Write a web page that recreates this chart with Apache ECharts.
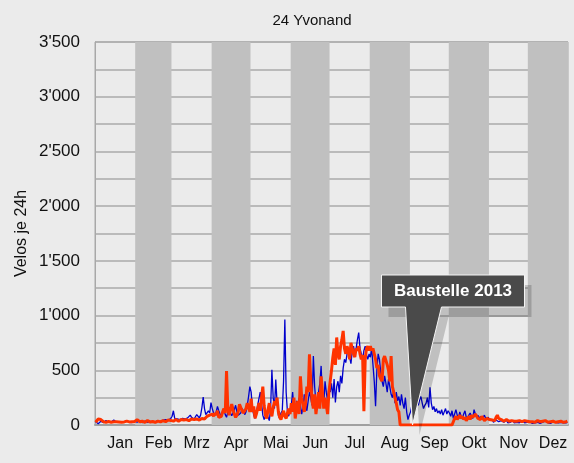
<!DOCTYPE html>
<html>
<head>
<meta charset="utf-8">
<script src="https://cdn.jsdelivr.net/npm/echarts@6/dist/echarts.min.js"></script>
<style>
  html, body { margin: 0; padding: 0; background: #ebebeb; }
  #chart { width: 574px; height: 463px; }
</style>
</head>
<body>
<div id="chart"></div>
<script>
// Month names and lengths (2013)
const monthNames = ['Jan', 'Feb', 'Mrz', 'Apr', 'Mai', 'Jun', 'Jul', 'Aug', 'Sep', 'Okt', 'Nov', 'Dez'];
const monthDays = [31, 28, 31, 30, 31, 30, 31, 31, 30, 31, 30, 31];

// Daily counts, thin blue line (one row per month)
const blueDaily = [
  30,18,12,25,35,28,22,30,40,35,25,20,28,38,45,30,25,22,30,35,28,20,25,30,40,32,25,30,22,28,35,
  30,25,35,40,30,22,28,35,30,25,20,30,38,32,25,28,35,40,30,25,35,45,40,50,38,45,55,60,
  80,130,60,45,55,70,50,45,60,75,55,50,65,80,90,70,60,55,75,95,80,65,90,160,255,150,95,100,130,110,205,
  150,110,90,120,170,130,100,80,110,140,95,70,120,160,110,85,100,140,180,120,90,75,110,150,130,95,120,180,260,350,
  300,150,90,60,120,180,240,300,200,90,50,80,120,70,40,150,505,250,150,415,200,90,60,110,130,400,965,300,120,80,140,
  180,300,150,90,220,120,250,180,100,160,280,200,130,220,300,250,180,630,350,200,150,300,380,540,250,180,400,300,220,350,
  300,380,250,420,205,350,400,300,450,380,520,600,570,650,700,620,560,680,720,650,700,780,845,700,650,600,680,720,640,600,650,
  620,700,550,400,172,500,650,600,480,400,350,450,380,300,420,350,280,250,320,200,300,220,260,180,280,200,150,250,120,50,90,
  120,180,250,200,150,220,180,230,260,200,150,180,200,250,160,345,200,140,170,120,150,110,130,100,140,90,120,150,100,130,
  110,80,130,60,100,140,90,70,120,80,60,100,130,70,50,90,110,80,60,140,100,70,90,60,80,50,70,90,60,50,70,
  40,30,50,25,35,45,60,30,20,40,35,25,30,45,20,30,25,35,40,20,30,25,35,20,30,40,25,20,30,25,
  20,30,25,15,30,20,35,25,20,15,30,25,20,35,25,20,30,15,25,30,20,25,30,20,15,25,30,20,25,20,25
];

// Daily counts, thick orange line (2013, construction site from late August)
const orangeDaily = [
  25,40,55,68,50,35,30,28,25,30,32,28,25,22,30,35,30,25,28,30,25,22,28,30,35,30,28,25,30,32,30,
  35,50,40,30,28,35,30,25,30,40,35,28,30,32,28,25,30,35,30,28,35,40,35,30,40,45,38,42,
  40,35,45,50,40,35,45,50,40,45,55,50,45,40,50,55,45,50,60,55,50,45,55,60,70,55,65,80,75,90,100,
  100,80,110,90,130,70,60,80,120,150,110,492,150,90,80,190,140,100,70,90,120,190,160,130,110,100,150,200,160,120,
  240,120,170,60,100,150,200,130,250,350,180,90,60,140,200,120,80,160,220,180,250,120,70,50,90,130,80,60,110,150,100,
  200,120,250,60,150,220,100,445,250,180,120,200,350,300,645,400,220,150,280,100,200,300,150,445,300,150,250,180,100,300,
  400,500,615,700,550,800,650,600,720,780,860,700,650,720,680,600,750,700,650,620,700,680,720,650,600,640,126,600,700,720,680,
  720,680,700,650,600,520,550,450,420,400,600,630,620,550,500,400,630,350,300,250,200,140,120,0,0,0,0,0,0,0,0,
  0,0,0,0,0,0,0,0,0,0,0,0,0,0,0,0,0,0,0,0,0,0,0,0,0,0,0,0,0,0,
  0,0,0,0,60,80,50,70,90,60,80,50,70,40,60,80,50,90,70,60,100,80,60,70,50,80,60,40,50,60,45,
  50,60,45,55,40,70,90,60,45,50,40,35,45,50,40,35,45,40,30,35,40,35,30,40,35,30,35,40,30,35,
  35,30,40,30,35,25,30,40,35,30,25,35,30,40,30,25,35,30,40,35,30,25,35,30,40,35,30,25,35,30,35
];

const yTicks = [0, 500, 1000, 1500, 2000, 2500, 3000, 3500];
const calloutText = 'Baustelle 2013';
const calloutDay = 245;

// month start days, label positions and shaded (even) months
const monthStart = [];
monthDays.reduce((acc, d) => { monthStart.push(acc); return acc + d; }, 0);
const labelDays = monthStart.map((s, i) => s + monthDays[i] / 2 + 4);
const darkBands = [];
monthStart.forEach((s, i) => {
  if (i % 2 === 1) darkBands.push([{ xAxis: s }, { xAxis: s + monthDays[i] }]);
});

function fmtThousands(v) {
  if (v < 1000) return String(v);
  const rest = String(v % 1000).padStart(3, '0');
  return Math.floor(v / 1000) + "'" + rest;
}

const chart = echarts.init(document.getElementById('chart'));
chart.setOption({
  backgroundColor: '#ebebeb',
  animation: false,
  textStyle: { fontFamily: 'Liberation Sans, Arial, sans-serif' },
  grid: {
    left: 95, right: 6, top: 42, bottom: 38,
    show: true, borderColor: '#a8a8a8', borderWidth: 1, backgroundColor: 'transparent'
  },
  xAxis: {
    type: 'value',
    min: 0,
    max: 365,
    splitLine: { show: false },
    axisTick: { show: false },
    axisLine: { lineStyle: { color: '#a0a0a0', width: 2 } },
    axisLabel: {
      customValues: labelDays,
      formatter: (v) => monthNames[labelDays.indexOf(v)] || '',
      color: '#111',
      fontSize: 16,
      margin: 11
    }
  },
  yAxis: {
    type: 'value',
    min: 0,
    max: 3500,
    interval: 500,
    name: 'Velos je 24h',
    nameLocation: 'middle',
    nameGap: 65,
    nameMoveOverlap: false,
    nameRotate: 90,
    nameTextStyle: { color: '#111', fontSize: 16 },
    axisLine: { show: true, lineStyle: { color: '#a8a8a8', width: 1 } },
    axisTick: { show: false },
    axisLabel: {
      formatter: (v) => (yTicks.includes(v) ? fmtThousands(v) : ''),
      color: '#111',
      fontSize: 17,
      margin: 15
    },
    splitLine: { lineStyle: { color: '#aaaaaa', width: 1.5 } },
    minorTick: { show: false, splitNumber: 2 },
    minorSplitLine: { show: true, lineStyle: { color: '#aaaaaa', width: 1.5 } }
  },
  series: [
    {
      name: 'bands',
      type: 'line',
      data: [],
      z: 1,
      silent: true,
      markArea: {
        silent: true,
        itemStyle: { color: '#c0c0c0' },
        data: darkBands
      }
    },
    {
      name: 'Velos',
      type: 'line',
      z: 3,
      showSymbol: false,
      data: blueDaily.map((v, i) => [i + 0.5, v]),
      lineStyle: { color: '#0000cc', width: 1.3 },
      itemStyle: { color: '#0000cc' }
    },
    {
      name: 'Velos 2013',
      type: 'line',
      z: 4,
      showSymbol: false,
      data: orangeDaily.map((v, i) => [i + 0.5, v]),
      lineStyle: { color: '#ff3300', width: 3 },
      itemStyle: { color: '#ff3300' }
    }
  ]
});

// title and callout, anchored on the chart
const tip = chart.convertToPixel({ gridIndex: 0 }, [calloutDay, 0]);
const bx = tip[0] - 31, by = tip[1] - 150;
const calloutShape = [
  [bx, by], [bx + 143, by], [bx + 143, by + 32], [bx + 60, by + 32],
  [tip[0], tip[1]], [bx + 24, by + 32], [bx, by + 32]
];
chart.setOption({
  graphic: [
    {
      type: 'text',
      x: 312, y: 21,
      style: {
        text: '24 Yvonand', fill: '#111',
        font: '15px "Liberation Sans", Arial, sans-serif',
        align: 'center', verticalAlign: 'middle'
      }
    },
    {
      type: 'polygon',
      shape: { points: calloutShape.map(p => [p[0] + 7, p[1] + 10]) },
      style: { fill: 'rgba(0,0,0,0.18)' },
      z: 10
    },
    {
      type: 'polygon',
      shape: { points: calloutShape },
      style: { fill: '#4a4a4a', stroke: '#f4f4f4', lineWidth: 1 },
      z: 11
    },
    {
      type: 'text',
      x: bx + 71.5, y: by + 16,
      style: {
        text: calloutText, fill: '#fff',
        font: 'bold 17px "Liberation Sans", Arial, sans-serif',
        align: 'center', verticalAlign: 'middle'
      },
      z: 12
    }
  ]
});
</script>
</body>
</html>
